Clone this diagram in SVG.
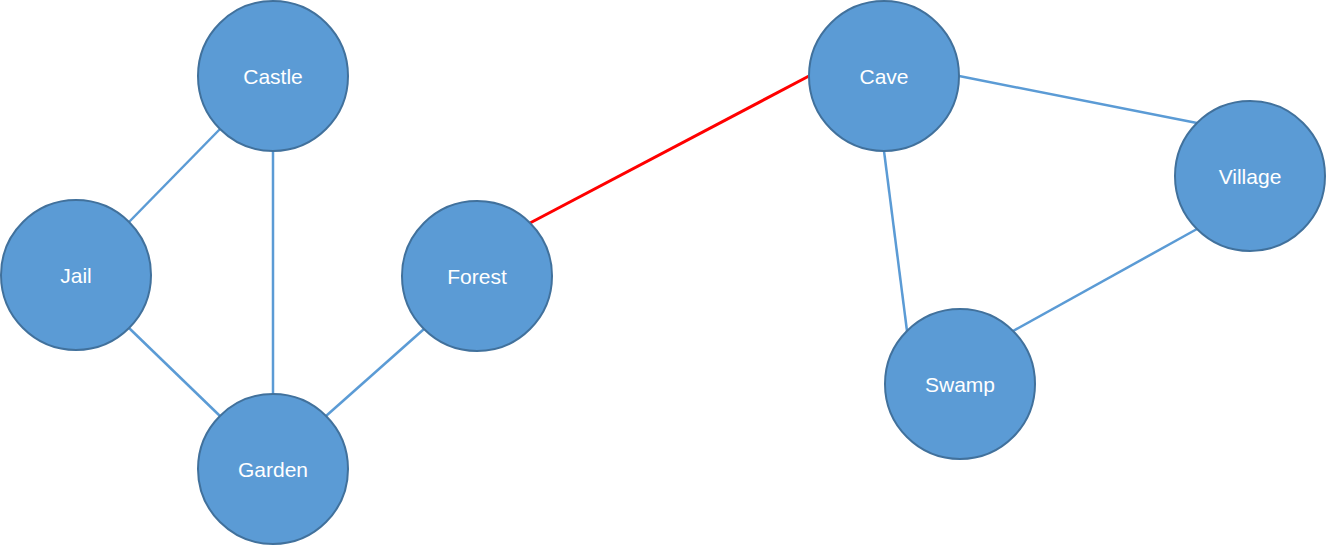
<svg xmlns="http://www.w3.org/2000/svg" width="1326" height="545" viewBox="0 0 1326 545">
<style>
.n{fill:#5B9BD5;stroke:#41719C;stroke-width:2}
.t{fill:#fff;font-family:"Liberation Sans",Arial,sans-serif;font-size:21px;text-anchor:middle;dominant-baseline:central}
.e{stroke:#5B9BD5;stroke-width:2.5;fill:none}
.r{stroke:#FF0000;stroke-width:3;fill:none}
</style>
<rect width="1326" height="545" fill="#fff"/>
<g id="connectors">
<line class="e" x1="220" y1="129" x2="129" y2="222"/>
<line class="e" x1="273" y1="151" x2="273" y2="394"/>
<line class="e" x1="129" y1="328" x2="220" y2="416"/>
<line class="e" x1="326" y1="416" x2="424" y2="329"/>
<line class="e" x1="959" y1="76" x2="1197" y2="123"/>
<line class="e" x1="884" y1="151" x2="907" y2="331"/>
<line class="e" x1="1197" y1="229" x2="1013" y2="331"/>
<line class="r" x1="530" y1="223" x2="809" y2="76"/>
</g>
<g id="castle"><circle class="n" cx="273" cy="76" r="75"/><text class="t" x="273" y="76">Castle</text></g>
<g id="jail"><circle class="n" cx="76" cy="275" r="75"/><text class="t" x="76" y="275">Jail</text></g>
<g id="garden"><circle class="n" cx="273" cy="469" r="75"/><text class="t" x="273" y="469">Garden</text></g>
<g id="forest"><circle class="n" cx="477" cy="276" r="75"/><text class="t" x="477" y="276">Forest</text></g>
<g id="cave"><circle class="n" cx="884" cy="76" r="75"/><text class="t" x="884" y="76">Cave</text></g>
<g id="village"><circle class="n" cx="1250" cy="176" r="75"/><text class="t" x="1250" y="176">Village</text></g>
<g id="swamp"><circle class="n" cx="960" cy="384" r="75"/><text class="t" x="960" y="384">Swamp</text></g>
</svg>
